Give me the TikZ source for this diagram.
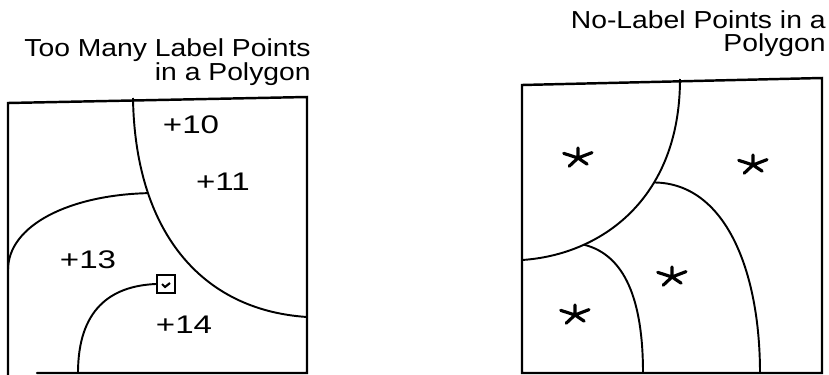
\documentclass[tikz,border=0pt]{standalone}
\usepackage{fontspec}
\newfontfamily\titlefont[FakeStretch=1.15]{Liberation Sans}
\newfontfamily\numfont[FakeStretch=1.3]{Liberation Sans}
\usetikzlibrary{positioning}

\begin{document}
\begin{tikzpicture}[x=0.02cm, y=-0.02cm,
    frame/.style={line width=1.4pt, line cap=round},
    border/.style={line width=1.1pt},
    title/.style={anchor=north east, align=right, inner sep=0pt, font=\titlefont\fontsize{14}{13}\selectfont},
    num/.style={anchor=base, inner sep=0pt, font=\numfont\fontsize{14.5}{15}\selectfont},
    marker/.style={draw, line width=1pt, minimum size=0.37cm, inner sep=0pt},
    lblstar/.pic={
        \draw[line width=1.8pt, line cap=round]
            (0,0) -- (90:0.2cm) (0,0) -- (162:0.3cm) (0,0) -- (21:0.3cm)
            (0,0) -- (223:0.24cm) (0,0) -- (326:0.22cm);
    }
]
    \useasboundingbox (0,0) rectangle (829,375);

    % titles
    \node[title] (ttl) at (311,38) {Too Many Label Points\\in a Polygon};
    \node[title] (ttr) at (826,10) {No-Label Points in a\\Polygon};

    % left polygon
    \coordinate (lt) at (8,103);
    \coordinate (rt) at (307,97);
    \coordinate (rb) at (307,373);
    \coordinate (lb) at (8,375);
    \coordinate (bs) at (37,373);
    \draw[frame] (lb) -- (lt) -- (rt) -- (rb) -- (bs);

    \draw[border] (133,98) .. controls (135,230) and (200,310) .. coordinate[pos=0.27] (ja) (307,317);
    \draw[border] (8,270) .. controls (8,225) and (70,195) .. (ja);
    \node[marker] (mk) at (166,284) {};
    \draw[line width=1.2pt] ([shift={(-4,0)}]mk.center) -- ++(3,3) -- ++(5,-4);
    \draw[border] (78,373) .. controls (78,310) and (110,286) .. (mk.west);

    \node[num] (n10) at (191,133) {+10};
    \node[num] (n11) at (223,191) {+11};
    \node[num] (n13) at (88,268) {+13};
    \node[num] (n14) at (184,333) {+14};

    % right polygon
    \coordinate (qlt) at (522,85);
    \coordinate (qrt) at (822,78);
    \coordinate (qrb) at (822,373);
    \coordinate (qlb) at (522,373);
    \draw[frame] (qlt) -- (qrt) -- (qrb) -- (qlb) -- cycle;

    \draw[border] (680,79) .. controls (680,200) and (600,255) .. coordinate[pos=0.35] (jb) coordinate[pos=0.73] (jc) (522,260);
    \draw[border] (jb) .. controls (725,183) and (760,270) .. (760,373);
    \draw[border] (jc) .. controls (625,255) and (643,300) .. (643,373);

    \pic (s1) at (578,158) {lblstar};
    \pic (s2) at (753,165) {lblstar};
    \pic (s3) at (672,277) {lblstar};
    \pic (s4) at (575,315) {lblstar};
\end{tikzpicture}
\end{document}
